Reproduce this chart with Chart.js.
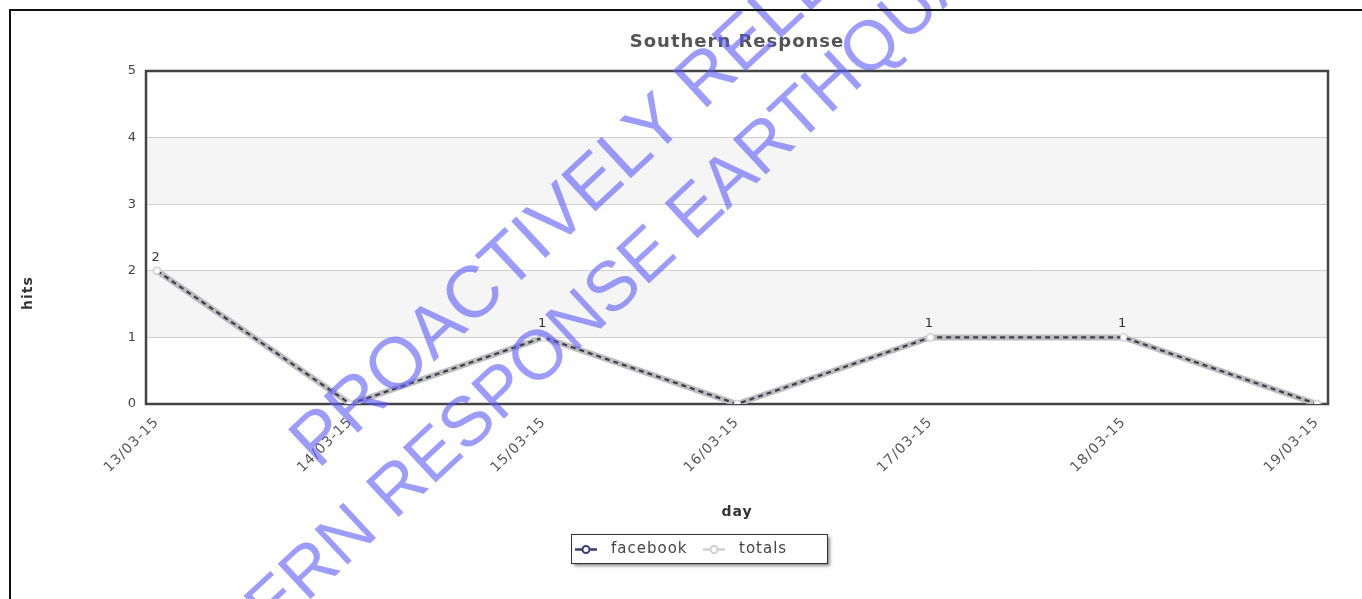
<!DOCTYPE html>
<html>
<head>
<meta charset="utf-8">
<script src="https://cdn.jsdelivr.net/npm/chart.js@4"></script>
<style>
  html, body { margin: 0; padding: 0; background: #fff; overflow: hidden; }
  #wrap { position: absolute; left: 0; top: 0; width: 1362px; height: 599px; }
  #frame { position: absolute; left: 9px; top: 9px; width: 1400px; height: 700px; border: 2px solid #111; pointer-events: none; }
</style>
</head>
<body>
<div id="wrap"><canvas id="c"></canvas></div>
<div id="frame"></div>
<script>
const categories = ['13/03-15', '14/03-15', '15/03-15', '16/03-15', '17/03-15', '18/03-15', '19/03-15'];
const facebookHits = [2, 0, 1, 0, 1, 1, 0];
const totalHits = [2, 0, 1, 0, 1, 1, 0];
const yTickValues = [0, 1, 2, 3, 4, 5];
const bandRanges = [[1, 2], [3, 4]];
const chartTitle = 'Southern Response';
const xTitle = 'day';
const yTitle = 'hits';
const watermarkLines = ['PROACTIVELY RELEASED', 'SOUTHERN RESPONSE EARTHQUAKE'];

const FB_COLOR = '#3c3c50';
const TOT_COLOR = '#bdbdbd';

const toPoints = arr => arr.map((v, i) => ({ x: i, y: v }));

const decor = {
  id: 'decor',
  beforeDraw(chart) {
    const { ctx, chartArea: a, scales: { y } } = chart;
    ctx.save();
    ctx.fillStyle = '#fff';
    ctx.fillRect(0, 0, chart.width, chart.height);
    ctx.fillStyle = '#f5f5f5';
    bandRanges.forEach(([lo, hi]) => {
      const t = y.getPixelForValue(hi), b = y.getPixelForValue(lo);
      ctx.fillRect(a.left, t, a.right - a.left, b - t);
    });
    ctx.restore();
    ctx.letterSpacing = '1px';
  },
  beforeDatasetsDraw(chart) {
    const { ctx, chartArea: a } = chart;
    ctx.save();
    ctx.strokeStyle = '#444';
    ctx.lineWidth = 2.5;
    ctx.strokeRect(a.left, a.top, a.right - a.left, a.bottom - a.top);
    ctx.restore();
  },
  afterDatasetsDraw(chart) {
    const { ctx } = chart;
    const meta = chart.getDatasetMeta(1);
    ctx.save();
    ctx.font = '13px "DejaVu Sans"';
    ctx.fillStyle = '#333';
    ctx.textAlign = 'center';
    ctx.textBaseline = 'bottom';
    meta.data.forEach((p, i) => {
      const v = chart.data.datasets[1].data[i].y;
      if (v > 0) ctx.fillText(String(v), p.x - 1, p.y - 7);
    });
    ctx.restore();
  },
  afterDraw(chart) {
    const { ctx, chartArea: a } = chart;
    ctx.save();
    // chart title
    ctx.font = 'bold 18px "DejaVu Sans"';
    ctx.fillStyle = '#555';
    ctx.textAlign = 'center';
    ctx.textBaseline = 'middle';
    ctx.fillText(chartTitle, (a.left + a.right) / 2, 42);
    // axis titles
    ctx.font = 'bold 14px "DejaVu Sans"';
    ctx.fillStyle = '#333';
    ctx.fillText(xTitle, (a.left + a.right) / 2, 512);
    ctx.save();
    ctx.translate(28, 293);
    ctx.rotate(-Math.PI / 2);
    ctx.fillText(yTitle, 0, 0);
    ctx.restore();

    // legend
    const bx = 571, by = 534, bw = 256, bh = 29;
    ctx.save();
    ctx.shadowColor = 'rgba(0,0,0,0.45)';
    ctx.shadowOffsetX = 3; ctx.shadowOffsetY = 3; ctx.shadowBlur = 3;
    ctx.fillStyle = '#fff';
    ctx.fillRect(bx, by, bw, bh);
    ctx.restore();
    ctx.strokeStyle = '#333';
    ctx.lineWidth = 1;
    ctx.strokeRect(bx + 0.5, by + 0.5, bw, bh);
    const items = chart.data.datasets.map(d => ({ label: d.label, color: d.legendColor }));
    const slots = [{ mx: 575, tx: 611 }, { mx: 703, tx: 739 }];
    ctx.textAlign = 'left';
    ctx.textBaseline = 'middle';
    ctx.font = '15px "DejaVu Sans"';
    items.forEach((it, i) => {
      const s = slots[i], cy = by + bh / 2 + 1;
      ctx.strokeStyle = it.color;
      ctx.lineWidth = 2.5;
      ctx.beginPath(); ctx.moveTo(s.mx, cy); ctx.lineTo(s.mx + 22, cy); ctx.stroke();
      ctx.fillStyle = '#fff';
      ctx.lineWidth = 2;
      ctx.beginPath(); ctx.arc(s.mx + 11, cy, 3.5, 0, Math.PI * 2); ctx.fill(); ctx.stroke();
      ctx.fillStyle = '#444';
      ctx.fillText(it.label, s.tx, cy);
    });

    // watermark
    ctx.letterSpacing = '0px';
    ctx.fillStyle = 'rgba(90,90,250,0.6)';
    ctx.textAlign = 'left';
    ctx.textBaseline = 'alphabetic';
    const wmSpec = [[318, 470, 73], [93, 802, 70]];
    watermarkLines.forEach((t, i) => {
      const [x, y, size] = wmSpec[i];
      ctx.save();
      ctx.font = size + 'px "Liberation Sans"';
      ctx.translate(x, y);
      ctx.rotate(-43 * Math.PI / 180);
      ctx.fillText(t, 0, 0);
      ctx.restore();
    });
    ctx.restore();
  }
};

new Chart(document.getElementById('c'), {
  type: 'line',
  data: {
    datasets: [
      {
        label: 'facebook',
        data: toPoints(facebookHits),
        borderColor: FB_COLOR,
        legendColor: '#3b3b78',
        borderWidth: 2.2,
        borderDash: [5, 4],
        pointRadius: 3,
        pointBackgroundColor: '#fff',
        pointBorderColor: '#ddd',
        pointBorderWidth: 1,
        tension: 0,
        fill: false
      },
      {
        label: 'totals',
        data: toPoints(totalHits),
        borderColor: TOT_COLOR,
        legendColor: '#d0d0d0',
        borderWidth: 6,
        pointRadius: 4,
        pointBackgroundColor: '#fff',
        pointBorderColor: '#ccc',
        pointBorderWidth: 1,
        tension: 0,
        fill: false
      }
    ]
  },
  options: {
    responsive: true,
    maintainAspectRatio: false,
    animation: false,
    layout: { padding: { top: 71, left: 0, right: 34, bottom: 0 } },
    plugins: { legend: { display: false }, title: { display: false }, tooltip: { enabled: false } },
    scales: {
      x: {
        type: 'linear',
        min: -0.057,
        max: categories.length - 1 + 0.057,
        afterFit(s) { s.height = 195; },
        afterBuildTicks(s) { s.ticks = categories.map((c, i) => ({ value: i })); },
        grid: { display: false, drawTicks: false },
        border: { display: false },
        ticks: {
          autoSkip: false,
          minRotation: 45,
          maxRotation: 45,
          padding: 10,
          color: '#555',
          font: { family: 'DejaVu Sans', size: 14 },
          callback: v => categories[v]
        }
      },
      y: {
        min: 0,
        max: 5,
        afterFit(s) { s.width = 146; },
        afterBuildTicks(s) { s.ticks = yTickValues.map(v => ({ value: v })); },
        grid: { color: '#cfcfcf', lineWidth: 1, drawTicks: false },
        border: { display: false },
        ticks: {
          padding: 9,
          color: '#444',
          font: { family: 'DejaVu Sans', size: 13 }
        }
      }
    }
  },
  plugins: [decor]
});
</script>
</body>
</html>
